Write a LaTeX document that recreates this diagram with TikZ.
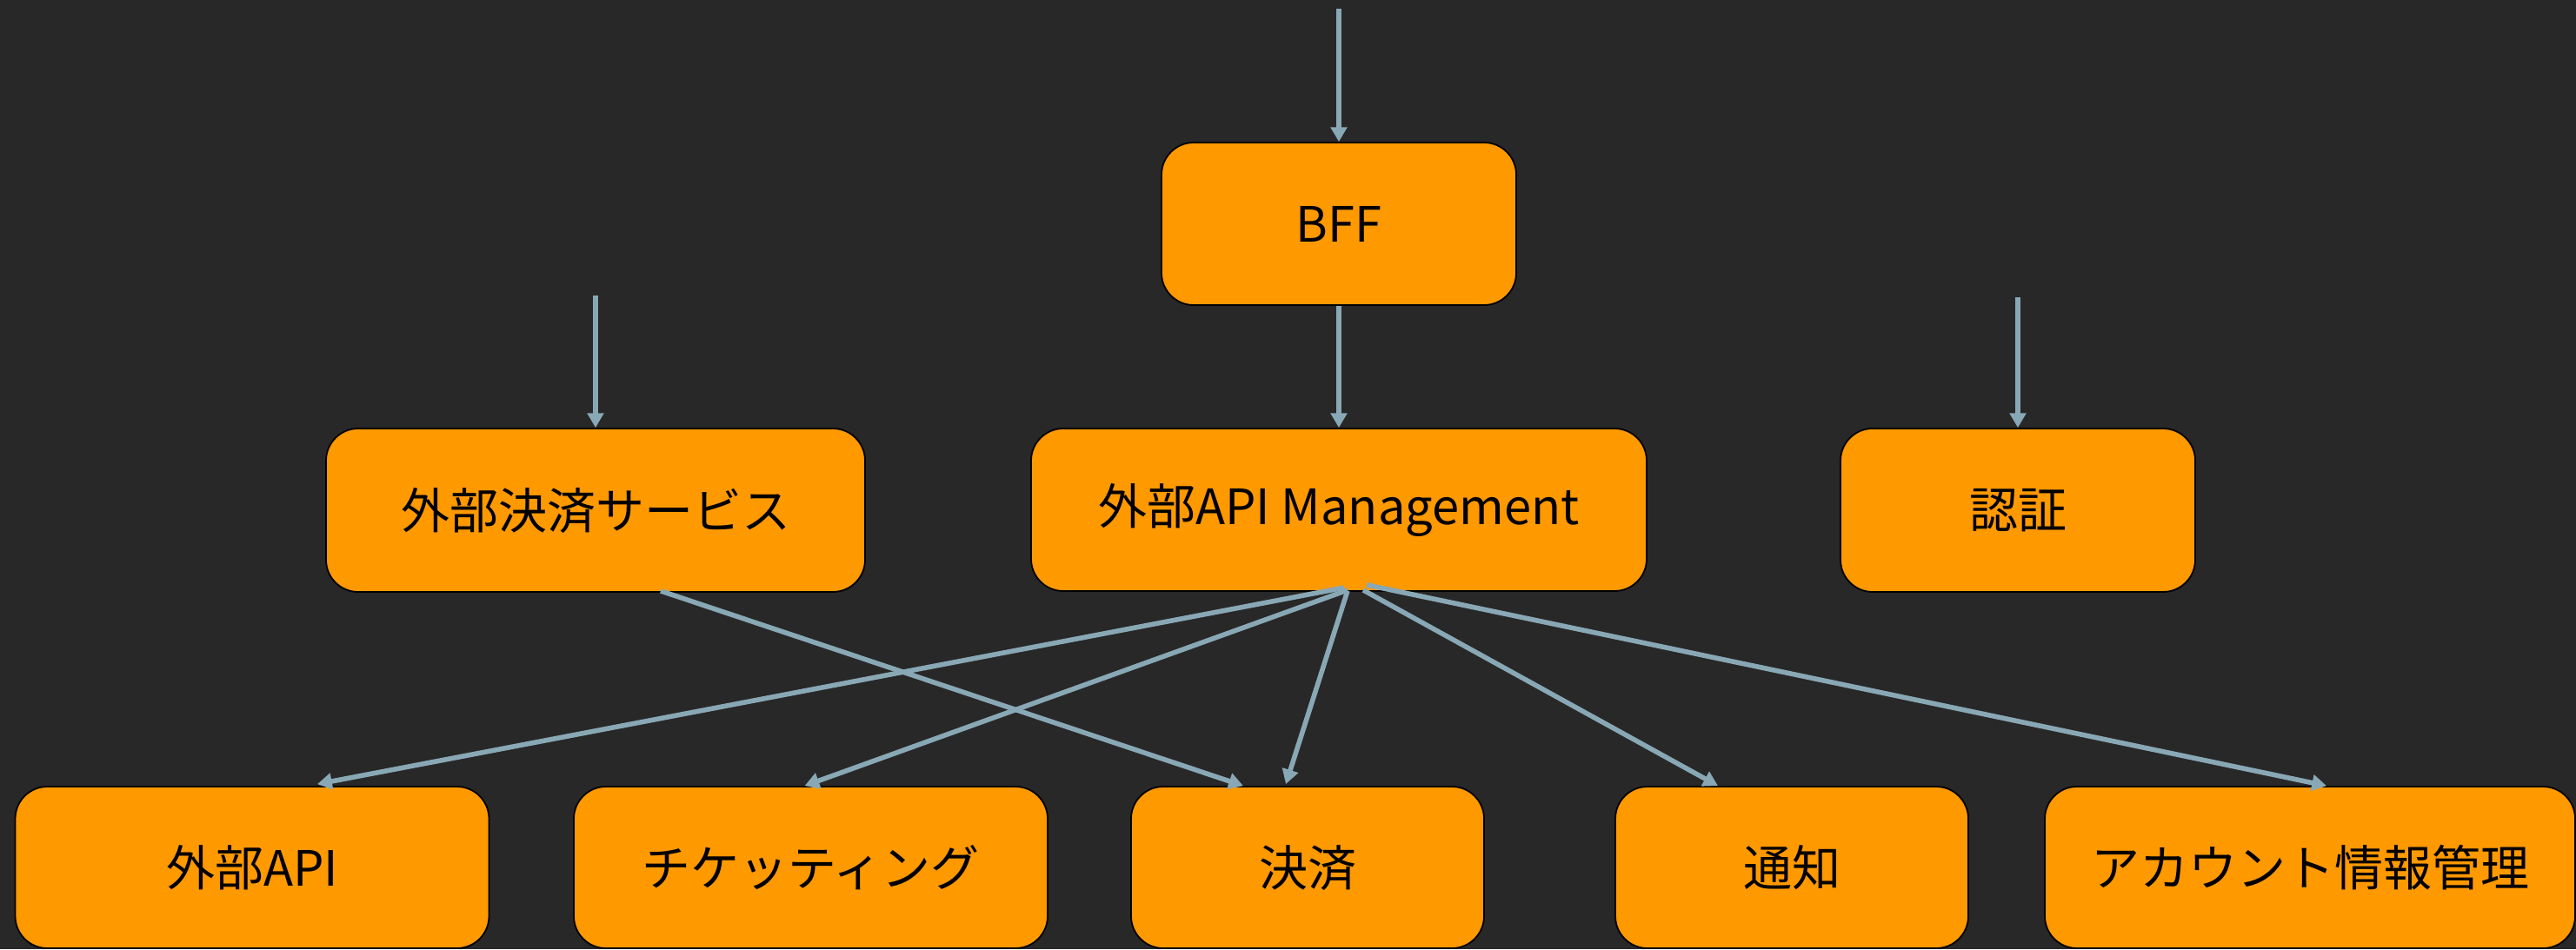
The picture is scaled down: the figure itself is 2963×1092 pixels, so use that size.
\documentclass[tikz,border=0pt]{standalone}
\usepackage{fontspec}
\setmainfont{Noto Sans CJK JP}
\usetikzlibrary{arrows.meta}
\definecolor{bgc}{HTML}{282828}
\definecolor{boxc}{HTML}{FF9900}
\definecolor{arrc}{HTML}{89A8B5}
\tikzset{
  box/.style={draw=black, line width=0.45pt, fill=boxc, rounded corners=9.25pt,
    font=\fontsize{14pt}{16pt}\selectfont, text=black, inner sep=0pt, anchor=center},
  arr/.style={draw=arrc, line width=1.4pt, -{Triangle[width=4.6pt,length=4.2pt]}}
}
\begin{document}
\begin{tikzpicture}[x=0.25pt,y=-0.25pt]
\fill[bgc] (0,0) rectangle (2963,1092);
\useasboundingbox (0,0) rectangle (2963,1092);

\node[box, minimum width=102pt, minimum height=46.75pt] (bff) at (1540,257.5) {BFF};
\node[box, minimum width=155pt, minimum height=47pt] (ext) at (685,587) {外部決済サービス};
\node[box, minimum width=177pt, minimum height=46.75pt] (api) at (1540,586.5) {外部API Management};
\node[box, minimum width=102pt, minimum height=47pt] (auth) at (2321,587) {認証};

\node[box, minimum width=136.25pt, minimum height=46.5pt] (extapi) at (290,998) {外部API};
\node[box, minimum width=136.25pt, minimum height=46.5pt] (ticket) at (932.5,998) {チケッティング};
\node[box, minimum width=101.5pt, minimum height=46.5pt] (kessai) at (1504,998) {決済};
\node[box, minimum width=101.5pt, minimum height=46.5pt] (tsuchi) at (2061,998) {通知};
\node[box, minimum width=152.5pt, minimum height=46.5pt] (account) at (2657,998) {アカウント情報管理};

\coordinate (inbff) at (1540,10);
\coordinate (inext) at (685,340);
\coordinate (inauth) at (2321,342);

\draw[arr] (inbff) -- (bff.north);
\draw[arr] (inext) -- (ext.north);
\draw[arr] (inauth) -- (auth.north);
\draw[arr] (bff.south) -- (api.north);

\draw[arr] ([xshift=1.5pt,yshift=1.2pt]api.south) -- ([xshift=18.75pt,yshift=0.5pt]extapi.north);
\draw[arr] ([xshift=2.5pt,yshift=0.5pt]api.south) -- ([xshift=-1.75pt]ticket.north);
\draw[arr] ([xshift=2.5pt,yshift=0.3pt]api.south) -- ([xshift=-6.25pt,yshift=0.5pt]kessai.north);
\draw[arr] ([xshift=7pt,yshift=0.5pt]api.south) -- ([xshift=-21.25pt]tsuchi.north);
\draw[arr] ([xshift=8pt,yshift=2pt]api.south) -- ([xshift=4.75pt]account.north);
\draw[arr] ([xshift=18.75pt,yshift=0.5pt]ext.south) -- ([xshift=-18.5pt]kessai.north);
\end{tikzpicture}
\end{document}
